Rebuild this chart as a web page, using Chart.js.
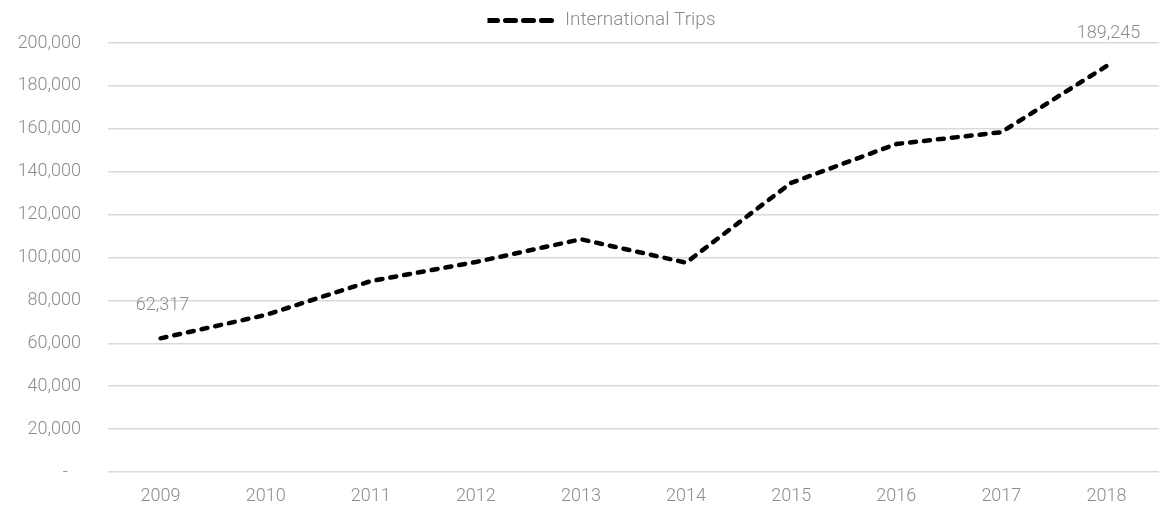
<!DOCTYPE html>
<html>
<head>
<meta charset="utf-8">
<script src="https://cdn.jsdelivr.net/npm/chart.js@4.4.0/dist/chart.umd.min.js"></script>
<style>
  html, body { margin: 0; padding: 0; background: #fff; }
  #wrap { width: 1159px; height: 510px; }
</style>
</head>
<body>
<div id="wrap"><canvas id="chart" width="1159" height="510"></canvas></div>
<script>
// data
const years = ['2009', '2010', '2011', '2012', '2013', '2014', '2015', '2016', '2017', '2018'];
const trips = [62317, 73200, 89000, 97900, 108500, 97600, 134800, 152900, 158400, 189245];
const yTicks = [0, 20000, 40000, 60000, 80000, 100000, 120000, 140000, 160000, 180000, 200000];
const labelled = [0, 9]; // points that get a value label

const GREY = '#8c8c8c';
const FONT = 'Roboto';

// value labels above first + last point
const pointLabels = {
  id: 'pointLabels',
  afterDatasetsDraw(chart) {
    const ctx = chart.ctx;
    const meta = chart.getDatasetMeta(0);
    ctx.save();
    ctx.font = '300 18px ' + FONT;
    ctx.fillStyle = GREY;
    ctx.textAlign = 'center';
    ctx.textBaseline = 'middle';
    labelled.forEach(i => {
      const pt = meta.data[i];
      ctx.fillText(trips[i].toLocaleString('en-US'), pt.x + 2, pt.y - 33);
    });
    ctx.restore();
  }
};

// nudge legend a bit right and up, like the original
const legendNudge = {
  id: 'legendNudge',
  afterLayout(chart) {
    const lg = chart.legend;
    lg.left += 22;
    lg.right += 22;
    lg.top -= 3;
    lg.bottom -= 3;
  }
};

const ctx = document.getElementById('chart').getContext('2d');
new Chart(ctx, {
  type: 'line',
  data: {
    labels: years,
    datasets: [{
      label: 'International Trips',
      data: trips,
      borderColor: '#000',
      backgroundColor: '#000',
      borderWidth: 4.5,
      borderDash: [6, 8],
      borderCapStyle: 'round',
      pointRadius: 0,
      tension: 0,
      fill: false
    }]
  },
  options: {
    responsive: false,
    animation: false,
    layout: { padding: { top: 4, right: 0, bottom: 2, left: 0 } },
    plugins: {
      legend: {
        position: 'top',
        labels: {
          boxWidth: 68,
          boxHeight: 0,
          padding: 10,
          color: GREY,
          font: { family: FONT, size: 19, weight: '300' },
          generateLabels(chart) {
            const items = Chart.defaults.plugins.legend.labels.generateLabels(chart);
            items.forEach(it => {
              it.lineDash = [10, 8];
              it.lineWidth = 5;
            });
            return items;
          }
        }
      },
      tooltip: { enabled: false }
    },
    scales: {
      x: {
        offset: true,
        grid: { display: false, drawTicks: false },
        border: { display: false },
        afterFit(scale) {
          scale.height = 36;
        },
        ticks: {
          color: GREY,
          padding: 14,
          maxRotation: 0,
          font: { family: FONT, size: 18, weight: '300' }
        }
      },
      y: {
        min: 0,
        max: 200000,
        afterBuildTicks(scale) {
          scale.ticks = yTicks.map(v => ({ value: v }));
        },
        afterFit(scale) {
          scale.width = 108;
        },
        grid: { color: '#d9d9d9', lineWidth: 1.5, drawTicks: false },
        border: { display: false },
        ticks: {
          color: GREY,
          padding: 27,
          font: { family: FONT, size: 18, weight: '300' },
          callback: v => v === 0 ? '-   ' : v.toLocaleString('en-US')
        }
      }
    }
  },
  plugins: [pointLabels, legendNudge]
});
</script>
</body>
</html>
